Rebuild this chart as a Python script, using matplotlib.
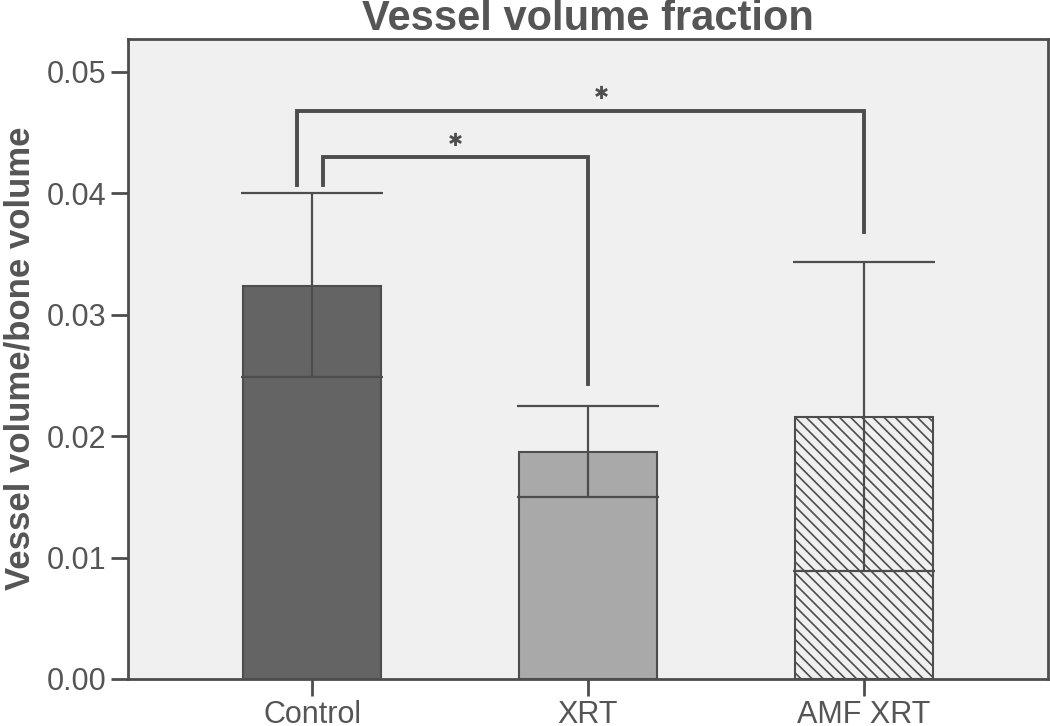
import matplotlib.pyplot as plt
import numpy as np

plt.rcParams['font.family'] = ['Liberation Sans Narrow', 'Liberation Sans', 'DejaVu Sans']
plt.rcParams['hatch.color'] = '#555555'
plt.rcParams['hatch.linewidth'] = 1.2

# data
groups = ['Control', 'XRT', 'AMF XRT']
means = [0.0324, 0.0187, 0.0216]
err_low = [0.0249, 0.0150, 0.0089]
err_high = [0.0400, 0.0225, 0.0343]
bar_colors = ['#646464', '#a9a9a9', '#f0f0f0']
bar_hatches = ['', '', '\\\\\\']

# significance brackets: (x_left, x_right, y_left_start, y_right_end, y_top, star_x)
brackets = [
    (0.04, 1.0, 0.0407, 0.0243, 0.0430, 0.52),
    (-0.055, 2.0, 0.0407, 0.0368, 0.0468, 1.05),
]

ink = '#4d4d4d'
txt = '#555555'

fig = plt.figure(figsize=(10.5, 7.26), dpi=100)
ax = fig.add_axes([128 / 1050, 1 - 679 / 726, 920 / 1050, 640 / 726])
ax.set_facecolor('#f0f0f0')

x = np.arange(len(groups))
bars = ax.bar(x, means, width=0.5, color=bar_colors, edgecolor=ink, linewidth=1.5, zorder=2)
for b, h in zip(bars, bar_hatches):
    b.set_hatch(h)

means_arr = np.array(means)
yerr = [means_arr - np.array(err_low), np.array(err_high) - means_arr]
ax.errorbar(x, means, yerr=yerr, fmt='none', ecolor=ink, elinewidth=1.6,
            capsize=51, capthick=1.6, zorder=3)

for xl, xr, yl, yr, yt, sx in brackets:
    ax.plot([xl, xl, xr, xr], [yl, yt, yt, yr], color=ink, lw=2.8,
            solid_joinstyle='miter', zorder=4)
    ax.text(sx, yt + 0.0006, '\u2731', ha='center', va='bottom', fontsize=13,
            family=['DejaVu Sans'], color=ink)

ax.set_xlim(-0.667, 2.667)
ax.set_ylim(0, 0.0527)
ax.set_yticks([0, 0.01, 0.02, 0.03, 0.04, 0.05])
ax.set_yticklabels(['0.00', '0.01', '0.02', '0.03', '0.04', '0.05'])
ax.set_xticks(x)
ax.set_xticklabels(groups)
ax.tick_params(axis='both', colors=ink, labelcolor=txt, labelsize=22,
               length=12, width=2)
ax.tick_params(axis='x', pad=3)

for s in ax.spines.values():
    s.set_color(ink)
    s.set_linewidth(2)

fig.text(20 / 1050, 0.507, 'Vessel volume/bone volume', rotation=90,
         ha='center', va='center', fontsize=25, fontweight='bold', color=txt)
ax.set_title('Vessel volume fraction', fontsize=30, fontweight='bold',
             color=txt, pad=3)

fig.savefig('out.png', dpi=100)
